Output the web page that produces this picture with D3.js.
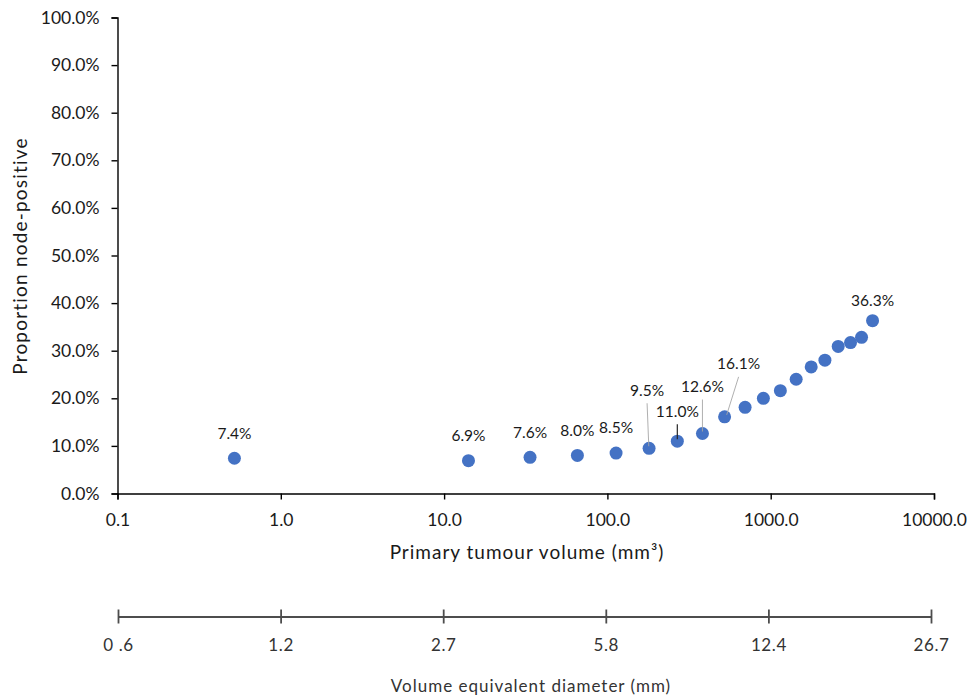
<!DOCTYPE html>
<html>
<head>
<meta charset="utf-8">
<script src="https://cdn.jsdelivr.net/npm/d3@7"></script>
<style>
  body { margin: 0; background: #fff; }
  svg text { font-family: Lato, "Open Sans", sans-serif; fill: #1a1a1a; }
  .axis path, .axis line { stroke: #000; stroke-width: 1.4; }
  .axis text { font-size: 17.5px; }
  .diam path, .diam line { stroke: #4d4d4d; stroke-width: 1.8; }
  .diam text { font-size: 17px; fill: #333; }
  .pt-label { font-size: 15.5px; text-anchor: middle; }
  .title { font-size: 19px; letter-spacing: 1px; text-anchor: middle; }
</style>
</head>
<body>
<div id="chart"></div>
<script>
// primary tumour volume (mm3) and proportion node-positive
var volumes = [0.52, 14.1, 33.6, 65.5, 113, 180, 268, 382, 522, 697, 902, 1146, 1432, 1770, 2148, 2590, 3082, 3600, 4205];
var proportions = [0.074, 0.069, 0.076, 0.080, 0.085, 0.095, 0.110, 0.126, 0.161, 0.181, 0.200, 0.216, 0.240, 0.266, 0.280, 0.309, 0.317, 0.328, 0.363];
var pointLabels = ["7.4%", "6.9%", "7.6%", "8.0%", "8.5%", "9.5%", "11.0%", "12.6%", "16.1%", "", "", "", "", "", "", "", "", "", "36.3%"];

var volumeTicks = [0.1, 1, 10, 100, 1000, 10000];
var percentTicks = [0, 0.1, 0.2, 0.3, 0.4, 0.5, 0.6, 0.7, 0.8, 0.9, 1.0];
var diameterLabels = ["0 .6", "1.2", "2.7", "5.8", "12.4", "26.7"];

// label nudges (px) relative to each dot; lead = draw a leader line
var labelNudge = [
  [0, -25], [0, -25], [0, -25], [0, -25], [0, -25],
  [-2, -58, "lead"], [0, -30, "dark"], [0, -47, "lead"], [14, -53, "lead"],
  null, null, null, null, null, null, null, null, null,
  [0, -20]
];

function drawChart() {
  var width = 979, height = 697;

  var svg = d3.select("#chart")
    .append("svg")
    .attr("width", width)
    .attr("height", height);

  var x = d3.scaleLog()
    .domain([0.1, 10000])
    .range([117.5, 934]);

  var y = d3.scaleLinear()
    .domain([0, 1])
    .range([493.5, 17.5]);

  var points = volumes.map(function(v, i) {
    return { v: v, p: proportions[i], label: pointLabels[i], nudge: labelNudge[i] };
  });

  // y axis
  svg.append("g")
    .attr("class", "axis")
    .attr("transform", "translate(117.5,0)")
    .call(d3.axisLeft(y)
      .tickValues(percentTicks)
      .tickFormat(d3.format(".1%"))
      .tickSizeOuter(0)
      .tickSize(6)
      .tickPadding(12));

  // x axis
  svg.append("g")
    .attr("class", "axis")
    .attr("transform", "translate(0,493.5)")
    .call(d3.axisBottom(x)
      .tickValues(volumeTicks)
      .tickFormat(d3.format(".1f"))
      .tickSizeOuter(0)
      .tickSize(6)
      .tickPadding(14));

  // axis titles
  svg.append("text")
    .attr("class", "title")
    .attr("transform", "translate(20,256) rotate(-90)")
    .attr("dy", "0.35em")
    .style("letter-spacing", "1.2px")
    .text("Proportion node-positive");

  svg.append("text")
    .attr("class", "title")
    .attr("x", 527)
    .attr("y", 552)
    .attr("dy", "0.35em")
    .text("Primary tumour volume (mm³)");

  // dots
  svg.selectAll(".dot")
    .data(points)
    .enter()
    .append("circle")
    .attr("class", "dot")
    .attr("cx", function(d) { return x(d.v); })
    .attr("cy", function(d) { return y(d.p); })
    .attr("r", 6.5)
    .attr("fill", "#4472c4");

  var labelled = points.filter(function(d) { return d.label; });

  // leader lines
  svg.selectAll(".leader")
    .data(labelled.filter(function(d) { return d.nudge[2]; }))
    .enter()
    .append("line")
    .attr("class", "leader")
    .attr("x1", function(d) { return x(d.v) + d.nudge[0]; })
    .attr("y1", function(d) { return y(d.p) + d.nudge[1] + 13; })
    .attr("x2", function(d) { return x(d.v) + d.nudge[0] * 0.15; })
    .attr("y2", function(d) { return y(d.p) - 2; })
    .attr("stroke", function(d) { return d.nudge[2] == "dark" ? "#262626" : "#a6a6a6"; })
    .attr("stroke-width", function(d) { return d.nudge[2] == "dark" ? 1.2 : 0.9; });

  svg.selectAll(".pt-label")
    .data(labelled)
    .enter()
    .append("text")
    .attr("class", "pt-label")
    .attr("x", function(d) { return x(d.v) + d.nudge[0]; })
    .attr("y", function(d) { return y(d.p) + d.nudge[1]; })
    .attr("dy", "0.35em")
    .text(function(d) { return d.label; });

  // secondary scale: volume equivalent diameter
  var xd = d3.scalePoint()
    .domain(diameterLabels)
    .range([118, 931]);

  var diam = svg.append("g")
    .attr("class", "diam")
    .attr("transform", "translate(0,616.5)")
    .call(d3.axisBottom(xd)
      .tickSizeOuter(0)
      .tickSizeInner(7)
      .tickPadding(15));

  diam.selectAll(".tick line").attr("y1", -7);
  diam.selectAll(".tick text").style("letter-spacing", "0.6px");

  svg.append("text")
    .attr("class", "title")
    .attr("x", 531)
    .attr("y", 686)
    .attr("dy", "0.35em")
    .style("font-size", "17px")
    .style("fill", "#333")
    .text("Volume equivalent diameter (mm)");
}

drawChart();
</script>
</body>
</html>
